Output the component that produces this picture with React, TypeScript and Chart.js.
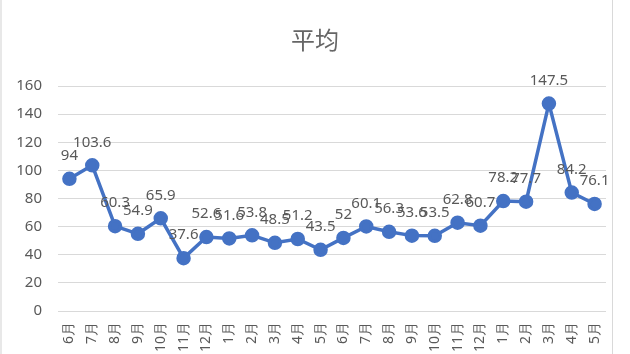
import React, { useEffect, useRef } from "react";
import { Chart, registerables } from "chart.js";

Chart.register(...registerables);

const TITLE = "平均";
const MONTH_LABELS = [
  "6月", "7月", "8月", "9月", "10月", "11月", "12月", "1月", "2月", "3月", "4月", "5月",
  "6月", "7月", "8月", "9月", "10月", "11月", "12月", "1月", "2月", "3月", "4月", "5月",
];
const AVERAGE_VALUES = [
  94, 103.6, 60.3, 54.9, 65.9, 37.6, 52.6, 51.6, 53.8, 48.5, 51.2, 43.5,
  52, 60.1, 56.3, 53.6, 53.5, 62.8, 60.7, 78.2, 77.7, 147.5, 84.2, 76.1,
];
const Y_MIN = 0;
const Y_MAX = 160;
const Y_STEP = 20;

const GREY = "#595959";
const LINE = "#4472C4";
const FONT = "'Noto Sans', 'Liberation Sans', sans-serif";

const labelPlugin = {
  id: "pointLabels",
  afterDatasetsDraw(chart: any) {
    const ctx = chart.ctx;
    const meta = chart.getDatasetMeta(0);
    ctx.save();
    ctx.font = `15px ${FONT}`;
    ctx.fillStyle = GREY;
    ctx.textAlign = "center";
    ctx.textBaseline = "middle";
    meta.data.forEach((pt: any, i: number) => {
      const v = chart.data.datasets[0].data[i];
      ctx.fillText(String(v), pt.x, pt.y - 23);
    });
    ctx.restore();
  },
};

const titlePlugin = {
  id: "customTitle",
  afterDraw(chart: any) {
    const ctx = chart.ctx;
    ctx.save();
    ctx.font = `24px 'Noto Sans CJK SC', sans-serif`;
    ctx.fillStyle = "#666666";
    ctx.textAlign = "center";
    ctx.textBaseline = "middle";
    ctx.fillText(TITLE, 315, 40);
    ctx.restore();
  },
};

export default function App() {
  const ref = useRef<HTMLCanvasElement>(null);
  useEffect(() => {
    if (!ref.current) return;
    const chart = new Chart(ref.current, {
      type: "line",
      data: {
        labels: MONTH_LABELS,
        datasets: [
          {
            data: AVERAGE_VALUES,
            borderColor: LINE,
            backgroundColor: LINE,
            borderWidth: 3.5,
            pointRadius: 5.5,
            pointBackgroundColor: LINE,
            pointBorderColor: LINE,
            tension: 0,
          },
        ],
      },
      options: {
        animation: false,
        responsive: true,
        maintainAspectRatio: false,
        layout: { padding: { top: 86, right: 24, bottom: 0, left: 0 } },
        plugins: {
          legend: { display: false },
          title: { display: false },
          tooltip: { enabled: false },
        },
        scales: {
          x: {
            offset: true,
            grid: { display: false, drawTicks: false },
            border: { display: false },
            ticks: {
              color: GREY,
              font: { size: 14, family: FONT },
              minRotation: 90,
              maxRotation: 90,
              autoSkip: false,
              padding: 11,
            },
            afterFit(s: any) {
              s.height = 43;
            },
          },
          y: {
            min: Y_MIN,
            max: Y_MAX,
            grid: { color: "#d9d9d9", lineWidth: 1, drawTicks: false },
            border: { display: false },
            ticks: {
              stepSize: Y_STEP,
              color: GREY,
              font: { size: 15, family: FONT },
              padding: 16,
            },
            afterFit(s: any) {
              s.width = 58;
            },
          },
        },
      },
      plugins: [labelPlugin, titlePlugin],
    });
    return () => chart.destroy();
  }, []);
  return (
    <div style={{ position: "fixed", left: 0, top: 0, width: 630, height: 354, background: "#fff", overflow: "hidden" }}>
      <canvas ref={ref} />
      <div style={{ position: "absolute", left: 0, top: 0, width: 2, height: 354, background: "#e8e8e8" }} />
      <div style={{ position: "absolute", left: 612, top: 0, width: 1, height: 354, background: "#d9d9d9" }} />
    </div>
  );
}
